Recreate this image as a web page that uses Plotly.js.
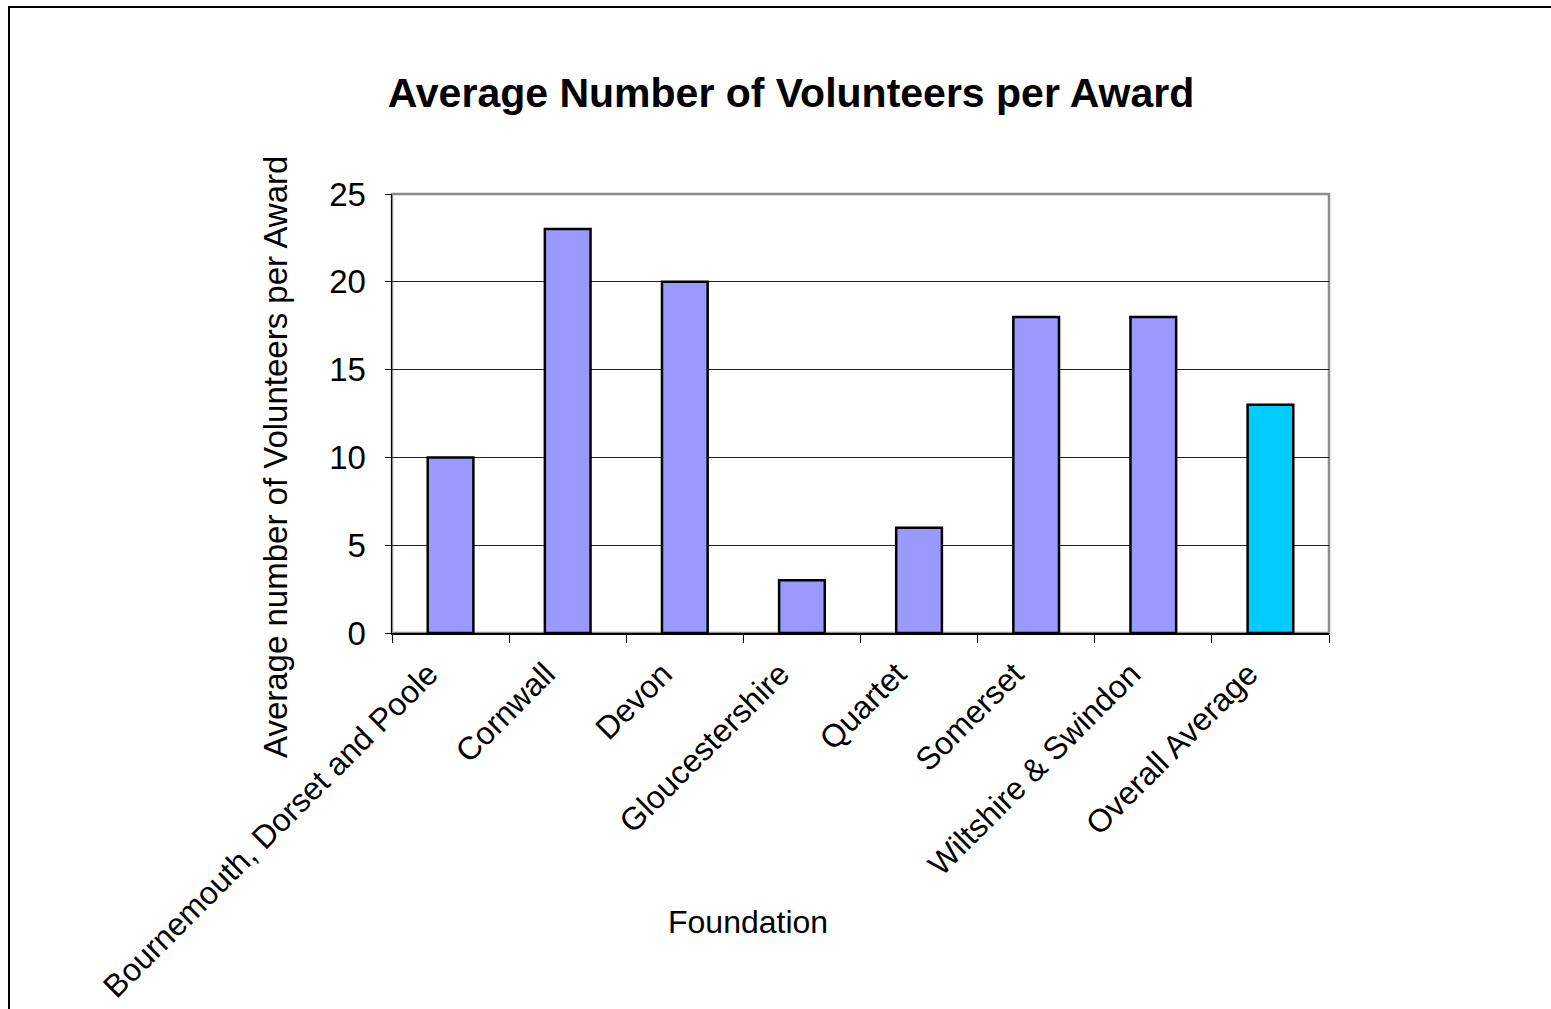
<!DOCTYPE html>
<html>
<head>
<meta charset="utf-8">
<script src="https://cdn.plot.ly/plotly-3.0.1.min.js"></script>
<style>
html,body{margin:0;padding:0;background:#fff;}
#wrap{position:relative;width:1551px;height:1009px;overflow:hidden;}
#chart{position:absolute;left:0;top:0;width:1551px;height:1009px;}
#frame{position:absolute;left:8px;top:6px;width:1600px;height:1100px;border-left:2px solid #000;border-top:2px solid #000;pointer-events:none;}
</style>
</head>
<body>
<div id="wrap"><div id="chart"></div><div id="frame"></div></div>
<script>
const categories = ["Bournemouth, Dorset and Poole", "Cornwall", "Devon", "Gloucestershire", "Quartet", "Somerset", "Wiltshire & Swindon", "Overall Average"];
const values = [10, 23, 20, 3, 6, 18, 18, 13];
const barColors = ["#9999FF", "#9999FF", "#9999FF", "#9999FF", "#9999FF", "#9999FF", "#9999FF", "#00CCFF"];
const yTicks = [0, 5, 10, 15, 20, 25];

const trace = {
  type: "bar",
  x: categories,
  y: values,
  marker: {color: barColors, line: {color: "#000", width: 2.5}},
  width: 0.39,
  hoverinfo: "x+y"
};

const layout = {
  width: 1551, height: 1009,
  margin: {l: 392, r: 222, t: 194, b: 376, pad: 0},
  paper_bgcolor: "#fff", plot_bgcolor: "#fff",
  font: {family: "Liberation Sans, Arial, sans-serif", color: "#000"},
  showlegend: false,
  title: {text: "<b>Average Number of Volunteers per Award</b>", font: {size: 41, family: "Liberation Sans, Arial, sans-serif"}, x: 0.51, xanchor: "center", y: 0.908, yanchor: "middle"},
  xaxis: {
    type: "category",
    showline: true, linecolor: "#000", linewidth: 1.5,
    ticks: "outside", tickson: "boundaries", ticklen: 8, tickcolor: "#000", tickwidth: 1,
    tickangle: -45, tickfont: {size: 32}, ticklabelshift: -22, ticklabelstandoff: 8,
    showgrid: false, zeroline: false,
    range: [-0.5, 7.5]
  },
  yaxis: {
    range: [0, 25], tickvals: yTicks, ticktext: yTicks.map(String),
    showline: true, linecolor: "#000", linewidth: 1.5,
    ticks: "outside", ticklen: 6, tickcolor: "#000", tickwidth: 1,
    tickfont: {size: 33}, ticklabelstandoff: 12,
    showgrid: true, gridcolor: "#222", gridwidth: 1,
    zeroline: false
  },
  shapes: [
    {type: "rect", xref: "paper", yref: "paper", x0: 0, x1: 1, y0: 0, y1: 1, line: {color: "#8c8c8c", width: 2.5}, layer: "below"}
  ],
  annotations: [
    {text: "Foundation", xref: "paper", yref: "paper", x: (748 - 392) / 937, y: -(922 - 633) / 439, xanchor: "center", yanchor: "middle", showarrow: false, font: {size: 32}},
    {text: "Average number of Volunteers per Award", xref: "paper", yref: "paper", x: (275 - 392) / 937, y: (633 - 457) / 439, xanchor: "center", yanchor: "middle", textangle: -90, showarrow: false, font: {size: 33}}
  ]
};

Plotly.newPlot("chart", [trace], layout, {displayModeBar: false, staticPlot: true});
</script>
</body>
</html>
